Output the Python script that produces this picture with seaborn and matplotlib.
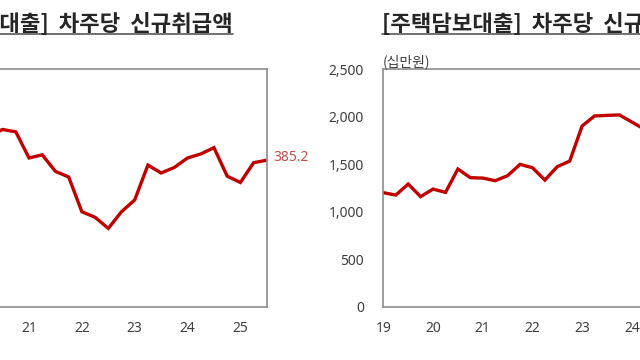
import matplotlib
matplotlib.use("Agg")
import pandas as pd
import matplotlib.pyplot as plt
import seaborn as sns
from matplotlib.lines import Line2D

sns.set_theme(style="white")
plt.rcParams['font.family'] = ['Noto Sans', 'Noto Sans CJK KR', 'DejaVu Sans']

# data (quarterly)
left_quarters = ["2020Q2", "2020Q3", "2020Q4",
                 "2021Q1", "2021Q2", "2021Q3", "2021Q4",
                 "2022Q1", "2022Q2", "2022Q3", "2022Q4",
                 "2023Q1", "2023Q2", "2023Q3", "2023Q4",
                 "2024Q1", "2024Q2", "2024Q3", "2024Q4",
                 "2025Q1", "2025Q2", "2025Q3"]
left_values = [416, 424, 421,
               388, 392, 371, 364,
               320, 313, 299, 320,
               335, 379, 369, 376,
               388, 393, 401, 365,
               357, 382, 385.2]

right_quarters = ["2019Q1", "2019Q2", "2019Q3", "2019Q4",
                  "2020Q1", "2020Q2", "2020Q3", "2020Q4",
                  "2021Q1", "2021Q2", "2021Q3", "2021Q4",
                  "2022Q1", "2022Q2", "2022Q3", "2022Q4",
                  "2023Q1", "2023Q2", "2023Q3", "2023Q4",
                  "2024Q1", "2024Q2"]
right_values = [1201, 1176, 1292, 1159,
                1239, 1204, 1450, 1359,
                1355, 1327, 1380, 1499,
                1464, 1334, 1475, 1534,
                1904, 2009, 2015, 2020,
                1945, 1870]

year_ticks = [19, 20, 21, 22, 23, 24, 25]
year_labels = ["19", "20", "21", "22", "23", "24", "25"]
right_yticks = [0, 500, 1000, 1500, 2000, 2500]

left_title = "[신용대출]  차주당  신규취급액"
right_title = "[주택담보대출]  차주당  신규취급액"
unit_label = "(십만원)"
last_label = "385.2"


def to_df(quarters, values):
    p = pd.PeriodIndex(quarters, freq="Q")
    x = (p.year - 2000) + (p.quarter - 1) / 4
    return pd.DataFrame({"x": x, "y": values})


line_color = "#C00000"
frame_color = "#8C8C8C"
text_color = "#404040"

fig = plt.figure(figsize=(6.4, 3.6), dpi=100)
ax_l = fig.add_axes([-0.1198, 0.148, 0.5367, 0.6594])
ax_r = fig.add_axes([0.599, 0.148, 0.5047, 0.6594])

for ax, df in [(ax_l, to_df(left_quarters, left_values)),
               (ax_r, to_df(right_quarters, right_values))]:
    sns.lineplot(data=df, x="x", y="y", ax=ax, color=line_color,
                 linewidth=2.4, solid_joinstyle="miter")
    ax.set_xlim(19, 25.5)
    ax.set_xticks(year_ticks)
    ax.set_xticklabels(year_labels)
    ax.set_xlabel("")
    ax.set_ylabel("")
    for s in ax.spines.values():
        s.set_color(frame_color)
        s.set_linewidth(1.2)
    ax.tick_params(axis="both", direction="in", length=4, width=1,
                   color=frame_color, labelcolor=text_color, labelsize=10)
    ax.tick_params(axis="x", pad=10)
    ax.tick_params(axis="y", pad=14)
    ax.grid(False)

ax_l.set_ylim(200, 500)
ax_l.set_yticks([200, 300, 400, 500])
ax_r.set_ylim(0, 2500)
ax_r.set_yticks(right_yticks)
ax_r.set_yticklabels([f"{v:,}" for v in right_yticks])

ldf = to_df(left_quarters, left_values)
ax_l.annotate(last_label, (ldf["x"].iloc[-1], ldf["y"].iloc[-1]),
              xytext=(5, 2), textcoords="offset points", va="center",
              ha="left", color="#C0504D", fontsize=10, annotation_clip=False)

fig.text(383 / 640, 1 - 62 / 360, unit_label, ha="left", va="center",
         fontsize=10, color=text_color, family=['Noto Sans CJK KR'])

# titles with underline
t_l = fig.text(233 / 640, 1 - 31 / 360, left_title, ha="right", va="baseline",
               fontsize=16, fontweight="bold", color="#262626",
               family=['Noto Sans CJK KR'])
t_r = fig.text(382 / 640, 1 - 31 / 360, right_title, ha="left", va="baseline",
               fontsize=16, fontweight="bold", color="#262626",
               family=['Noto Sans CJK KR'])
fig.canvas.draw()
r = fig.canvas.get_renderer()
for t in (t_l, t_r):
    bb = t.get_window_extent(r)
    yy = 1 - 34 / 360
    fig.add_artist(Line2D([bb.x0 / 640, bb.x1 / 640], [yy, yy],
                          transform=fig.transFigure, color="#595959",
                          linewidth=1.2))

fig.savefig("out.png", dpi=100)
